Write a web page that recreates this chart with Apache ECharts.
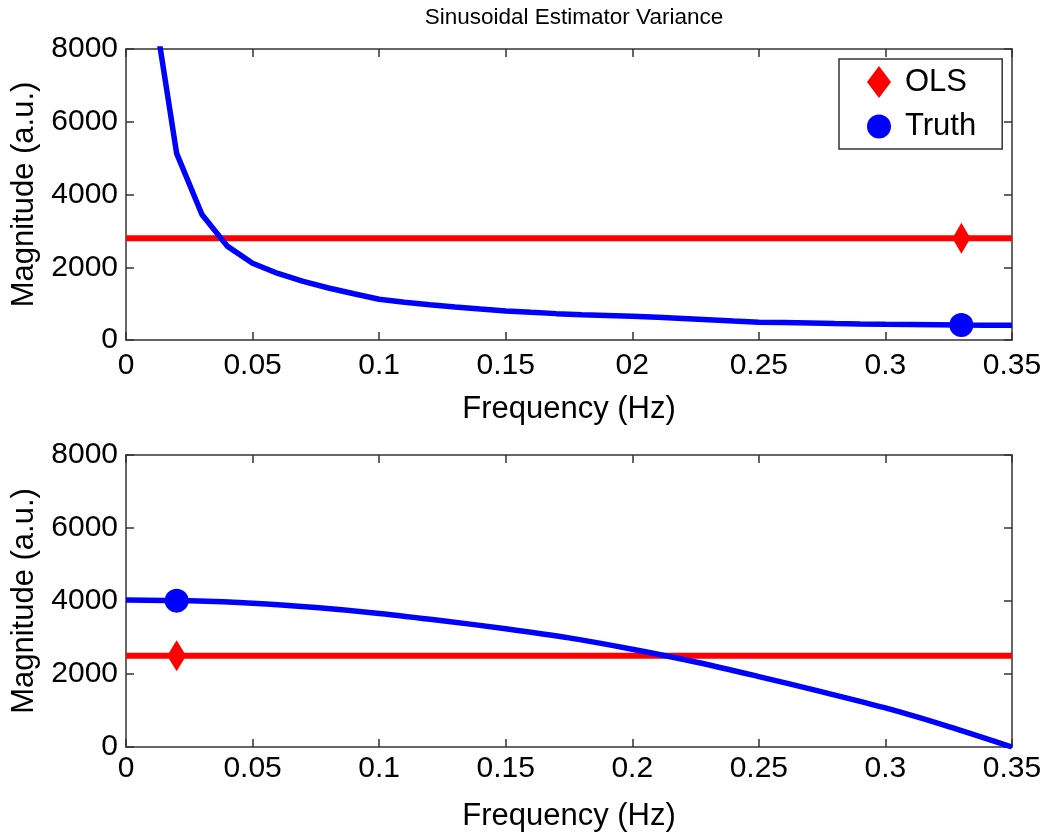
<!DOCTYPE html>
<html>
<head>
<meta charset="utf-8">
<script src="https://cdn.jsdelivr.net/npm/echarts@6/dist/echarts.min.js"></script>
<style>
html,body{margin:0;padding:0;background:#fff;}
#chart{width:1050px;height:835px;}
</style>
</head>
<body>
<div id="chart"></div>
<script>
// ---- data ----
const titleText = 'Sinusoidal Estimator Variance';
const xName = 'Frequency (Hz)';
const yName = 'Magnitude (a.u.)';
const xTickLabelsTop = ['0', '0.05', '0.1', '0.15', '02', '0.25', '0.3', '0.35'];
const xTickLabelsBottom = ['0', '0.05', '0.1', '0.15', '0.2', '0.25', '0.3', '0.35'];
const yTickLabels = ['0', '2000', '4000', '6000', '8000'];

// top panel: truth curve
const topFreq = [0.01, 0.02, 0.03, 0.04, 0.05, 0.06, 0.07, 0.08, 0.09, 0.10, 0.11, 0.12,
  0.13, 0.14, 0.15, 0.16, 0.17, 0.18, 0.19, 0.20, 0.21, 0.22, 0.23, 0.24, 0.25, 0.26,
  0.27, 0.28, 0.29, 0.30, 0.31, 0.32, 0.33, 0.34, 0.35];
const topTruth = [9600, 5130, 3450, 2580, 2110, 1830, 1610, 1430, 1270, 1120, 1040, 970,
  905, 850, 800, 760, 725, 695, 675, 655, 625, 590, 555, 520, 490, 478,
  465, 452, 440, 430, 424, 418, 412, 408, 404];
const topOLS = 2800;
const topMarkerX = 0.33;
const topTruthMarker = 412;

// bottom panel: truth curve
const bottomFreq = [0, 0.025, 0.05, 0.075, 0.1, 0.125, 0.15, 0.175, 0.2, 0.225,
  0.25, 0.275, 0.3, 0.325, 0.35];
const bottomTruth = [4030, 4005, 3940, 3820, 3660, 3460, 3240, 2990, 2680, 2330,
  1930, 1510, 1070, 560, 0];
const bottomOLS = 2500;
const bottomMarkerX = 0.02;
const bottomTruthMarker = 4010;

const xRange = [0, 0.35];
const yRange = [0, 8000];

// ---- chart ----
const chart = echarts.init(document.getElementById('chart'), null, {renderer: 'canvas'});
const FONT = 'Liberation Sans, Arial, Helvetica, sans-serif';
const AX = '#333';
const TICKFS = 30;
const NAMEFS = 31;
const grids = [
  {left: 126, top: 49, width: 886, height: 291},
  {left: 126, top: 455, width: 886, height: 292}
];

function zip(xs, ys) { return xs.map((x, i) => [x, ys[i]]); }

const lineStyleAx = {color: AX, width: 1.5};
const tickStyle = {show: true, inside: true, length: 8, lineStyle: {color: AX, width: 1.5}};

function xAxisFor(gi, labels, nameGap, margin) {
  return [
    {
      type: 'value', gridIndex: gi, position: 'bottom', min: xRange[0], max: xRange[1], interval: 0.05,
      name: xName, nameLocation: 'middle', nameGap: nameGap,
      nameTextStyle: {fontFamily: FONT, fontSize: NAMEFS, color: '#000'},
      axisLine: {show: true, onZero: false, lineStyle: lineStyleAx},
      axisTick: tickStyle,
      axisLabel: {
        fontFamily: FONT, fontSize: TICKFS, color: '#000', margin: margin,
        formatter: v => labels[Math.round(v / 0.05)]
      },
      splitLine: {show: false}
    },
    {
      type: 'value', gridIndex: gi, position: 'top', min: xRange[0], max: xRange[1], interval: 0.05,
      axisLine: {show: true, onZero: false, lineStyle: lineStyleAx},
      axisTick: tickStyle,
      axisLabel: {show: false},
      splitLine: {show: false}
    }
  ];
}
function yAxisFor(gi) {
  return [
    {
      type: 'value', gridIndex: gi, position: 'left', min: yRange[0], max: yRange[1], interval: 2000,
      name: yName, nameLocation: 'middle', nameGap: 84, nameRotate: 90,
      nameTextStyle: {fontFamily: FONT, fontSize: NAMEFS, color: '#000'},
      axisLine: {show: true, onZero: false, lineStyle: lineStyleAx},
      axisTick: tickStyle,
      axisLabel: {
        fontFamily: FONT, fontSize: TICKFS, color: '#000', margin: 8,
        formatter: v => yTickLabels[Math.round(v / 2000)]
      },
      splitLine: {show: false}
    },
    {
      type: 'value', gridIndex: gi, position: 'right', min: yRange[0], max: yRange[1], interval: 2000,
      axisLine: {show: true, onZero: false, lineStyle: lineStyleAx},
      axisTick: tickStyle,
      axisLabel: {show: false},
      splitLine: {show: false}
    }
  ];
}

const xTop = xAxisFor(0, xTickLabelsTop, 54, 11);
const xBot = xAxisFor(1, xTickLabelsBottom, 54, 7);
const yTop = yAxisFor(0);
const yBot = yAxisFor(1);

const BLUE = '#0000ff', RED = '#ff0000';
const diamondPath = 'path://M0,-16L12,0L0,16L-12,0Z';

const option = {
  backgroundColor: '#fff',
  animation: false,
  title: {
    text: titleText, left: 569, top: 1, textAlign: 'center',
    textStyle: {fontFamily: FONT, fontSize: 22.5, fontWeight: 'normal', color: '#000'}
  },
  legend: {
    left: 839, top: 59, orient: 'vertical',
    backgroundColor: '#fff', borderColor: AX, borderWidth: 1.5, borderRadius: 0,
    padding: [7, 26, 7, 28], itemGap: 13, itemWidth: 24, itemHeight: 32,
    textStyle: {fontFamily: FONT, fontSize: 31, color: '#000', padding: [0, 0, 0, 9]},
    data: [
      {name: 'OLS', icon: diamondPath, itemStyle: {color: RED, opacity: 1}},
      {name: 'Truth', icon: 'circle', itemStyle: {color: BLUE, opacity: 1}}
    ]
  },
  grid: grids,
  xAxis: [xTop[0], xTop[1], xBot[0], xBot[1]],
  yAxis: [yTop[0], yTop[1], yBot[0], yBot[1]],
  series: [
    // top panel
    {
      name: 'OLS line top', type: 'line', xAxisIndex: 0, yAxisIndex: 0,
      data: [[xRange[0], topOLS], [xRange[1], topOLS]],
      showSymbol: false, lineStyle: {color: RED, width: 6}, itemStyle: {color: RED}, z: 2
    },
    {
      name: 'Truth line top', type: 'line', xAxisIndex: 0, yAxisIndex: 0,
      data: zip(topFreq, topTruth), clip: true,
      showSymbol: false, lineStyle: {color: BLUE, width: 5.5}, itemStyle: {color: BLUE}, z: 3
    },
    {
      name: 'OLS', type: 'scatter', xAxisIndex: 0, yAxisIndex: 0,
      data: [[topMarkerX, topOLS]], symbol: 'diamond', symbolSize: [18, 31],
      itemStyle: {color: RED, opacity: 1}, z: 5
    },
    {
      name: 'Truth', type: 'scatter', xAxisIndex: 0, yAxisIndex: 0,
      data: [[topMarkerX, topTruthMarker]], symbol: 'circle', symbolSize: 24,
      itemStyle: {color: BLUE, opacity: 1}, z: 5
    },
    // bottom panel
    {
      name: 'OLS line bottom', type: 'line', xAxisIndex: 2, yAxisIndex: 2,
      data: [[xRange[0], bottomOLS], [xRange[1], bottomOLS]],
      showSymbol: false, lineStyle: {color: RED, width: 6}, itemStyle: {color: RED}, z: 2
    },
    {
      name: 'Truth line bottom', type: 'line', xAxisIndex: 2, yAxisIndex: 2,
      data: zip(bottomFreq, bottomTruth), smooth: 0.3,
      showSymbol: false, lineStyle: {color: BLUE, width: 5.5}, itemStyle: {color: BLUE}, z: 3
    },
    {
      name: 'OLS', type: 'scatter', xAxisIndex: 2, yAxisIndex: 2,
      data: [[bottomMarkerX, bottomOLS]], symbol: 'diamond', symbolSize: [19, 31],
      itemStyle: {color: RED, opacity: 1}, z: 5
    },
    {
      name: 'Truth', type: 'scatter', xAxisIndex: 2, yAxisIndex: 2,
      data: [[bottomMarkerX, bottomTruthMarker]], symbol: 'circle', symbolSize: 24,
      itemStyle: {color: BLUE, opacity: 1}, z: 5
    }
  ]
};
chart.setOption(option);
</script>
</body>
</html>
